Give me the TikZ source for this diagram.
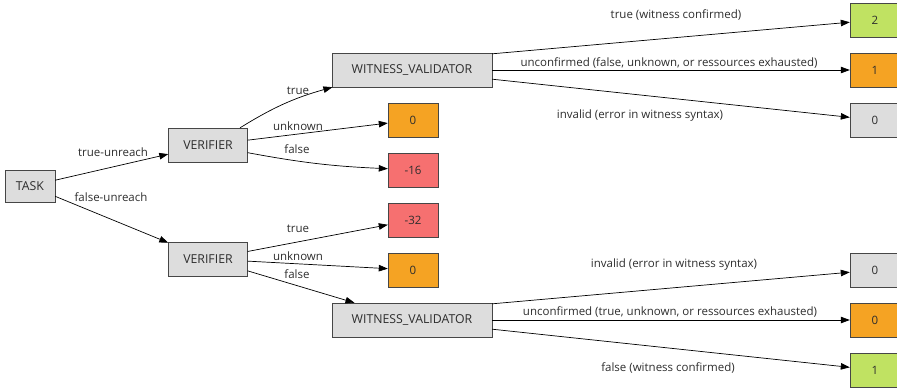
\documentclass[tikz,border=0pt]{standalone}
\usepackage{fontspec}
\setmainfont{Open Sans}
\usetikzlibrary{arrows.meta}

\definecolor{boxgray}{RGB}{221,221,221}
\definecolor{linegray}{RGB}{70,70,70}
\definecolor{txtgray}{RGB}{45,45,45}
\definecolor{scoreorange}{RGB}{245,163,35}
\definecolor{scorered}{RGB}{246,112,112}
\definecolor{scoregreen}{RGB}{192,226,98}

\begin{document}
\begin{tikzpicture}[x=1pt,y=-1pt,
  every node/.style={font=\fontsize{11.5}{13}\selectfont, text=txtgray},
  stage/.style={draw=linegray, fill=boxgray, minimum height=34pt, inner sep=0pt,
    font=\fontsize{12.3}{14}\selectfont},
  score/.style={draw=linegray, minimum width=50pt, minimum height=34pt, inner sep=0pt},
  flow/.style={-{Triangle[length=9pt,width=6.5pt]}, line width=0.7pt},
  lbl/.style={inner sep=1pt}]
  \useasboundingbox (0,0) rectangle (897,389);

  % stages
  \node[stage, minimum width=50pt, minimum height=32pt] (task) at (30,186) {TASK};
  \node[stage, minimum width=79pt] (ver1) at (208,145) {VERIFIER};
  \node[stage, minimum width=79pt] (ver2) at (208,259) {VERIFIER};
  \node[stage, minimum width=160pt] (wit1) at (412,70) {WITNESS\_VALIDATOR};
  \node[stage, minimum width=160pt] (wit2) at (412,320) {WITNESS\_VALIDATOR};

  % scores
  \node[score, fill=scoreorange] (unk1) at (413,120) {0};
  \node[score, fill=scorered] (fal1) at (413,170) {-16};
  \node[score, fill=scorered] (tru2) at (413,220) {-32};
  \node[score, fill=scoreorange] (unk2) at (413,270) {0};
  \node[score, fill=scoregreen] (conf1) at (875,20) {2};
  \node[score, fill=scoreorange] (ucf1) at (875,70) {1};
  \node[score, fill=boxgray] (inv1) at (875,120) {0};
  \node[score, fill=boxgray] (inv2) at (875,270) {0};
  \node[score, fill=scoreorange] (ucf2) at (875,320) {0};
  \node[score, fill=scoregreen] (conf2) at (875,370) {1};

  % edges
  \draw[flow] (task) -- (ver1);
  \draw[flow] (task) -- (ver2);
  \draw[flow] (ver1) to[bend left=8] (wit1);
  \draw[flow] (ver1) -- (unk1);
  \draw[flow] (ver1) to[bend right=4] (fal1);
  \draw[flow] (ver2) -- (tru2);
  \draw[flow] (ver2) -- (unk2);
  \draw[flow] (ver2) -- (wit2);
  \draw[flow] ([yshift=-1pt]wit1.north east) -- (conf1);
  \draw[flow] (wit1.east) -- (ucf1);
  \draw[flow] ([yshift=8pt]wit1.south east) -- (inv1);
  \draw[flow] ([yshift=-1pt]wit2.north east) -- (inv2);
  \draw[flow] (wit2.east) -- (ucf2);
  \draw[flow] ([yshift=8pt]wit2.south east) -- (conf2);

  % edge labels
  \node[lbl] (l-tu) at (113,152) {true-unreach};
  \node[lbl] (l-fu) at (111,197) {false-unreach};
  \node[lbl] (l-t1) at (298,91) {true};
  \node[lbl] (l-u1) at (298,126) {unknown};
  \node[lbl] (l-f1) at (297,149) {false};
  \node[lbl] (l-t2) at (298,229) {true};
  \node[lbl] (l-u2) at (298,256) {unknown};
  \node[lbl] (l-f2) at (297,274) {false};
  \node[lbl] (l-c1) at (676,15) {true (witness confirmed)};
  \node[lbl] (l-n1) at (669,63) {unconfirmed (false, unknown, or ressources exhausted)};
  \node[lbl] (l-i1) at (640,116) {invalid (error in witness syntax)};
  \node[lbl] (l-i2) at (674,265) {invalid (error in witness syntax)};
  \node[lbl] (l-n2) at (670,312) {unconfirmed (true, unknown, or ressources exhausted)};
  \node[lbl] (l-c2) at (668,368) {false (witness confirmed)};
\end{tikzpicture}
\end{document}
